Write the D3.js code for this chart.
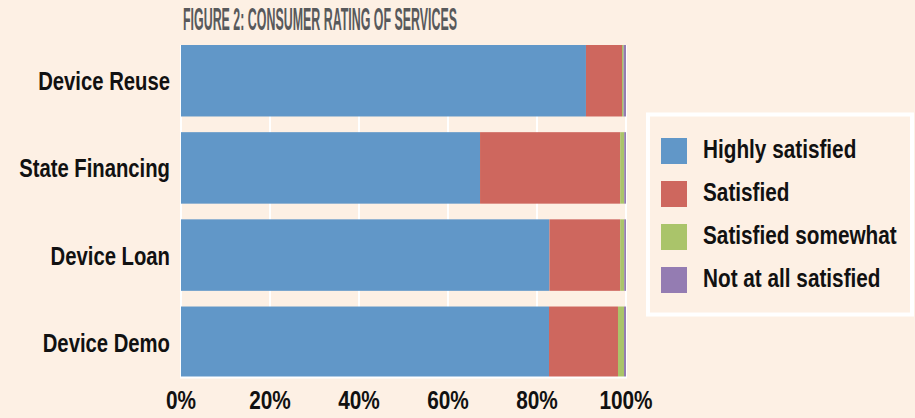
<!DOCTYPE html>
<html>
<head>
<meta charset="utf-8">
<script src="https://cdn.jsdelivr.net/npm/d3@7"></script>
<style>
  html, body { margin: 0; padding: 0; background: #fdf0e4; }
  svg { display: block; font-family: 'Liberation Sans', Arial, sans-serif; font-weight: bold; }
</style>
</head>
<body>
<div id="chart"></div>
<script>
// values (percent of responses)
const categories = ['Device Reuse', 'State Financing', 'Device Loan', 'Device Demo'];
const highlySatisfied = [91.0, 67.2, 82.8, 82.7];
const satisfied = [8.1, 31.5, 15.9, 15.5];
const satisfiedSomewhat = [0.35, 0.9, 0.9, 1.35];
const notAtAllSatisfied = [0.55, 0.4, 0.4, 0.45];
const seriesNames = ['Highly satisfied', 'Satisfied', 'Satisfied somewhat', 'Not at all satisfied'];
const tickValues = [0, 20, 40, 60, 80, 100];

const colors = ['#6197c8', '#ce675e', '#aac46a', '#947cb2'];

const size = { width: 915, height: 418 };
const margin = { top: 45, right: 289, bottom: 40, left: 181 };

// condensed look: place text with a transform and squeeze it horizontally
const place = (sel, fx, fy, k) =>
  sel.attr('transform', (d, i) => `translate(${fx(d, i)},${fy(d, i)}) scale(${k},1)`);

const svg = d3.select('#chart')
  .append('svg')
  .attr('width', size.width)
  .attr('height', size.height);

svg.append('rect')
  .attr('width', size.width)
  .attr('height', size.height)
  .attr('fill', '#fdf0e4');

const table = categories.map((c, i) => ({
  category: c,
  'Highly satisfied': highlySatisfied[i],
  'Satisfied': satisfied[i],
  'Satisfied somewhat': satisfiedSomewhat[i],
  'Not at all satisfied': notAtAllSatisfied[i],
}));

const stacked = d3.stack().keys(seriesNames)(table);

const x = d3.scaleLinear()
  .domain([0, 100])
  .range([margin.left, size.width - margin.right]);

const y = d3.scaleBand()
  .domain(categories)
  .range([margin.top, 378])
  .paddingInner(0.18)
  .paddingOuter(0);

// white vertical grid lines
svg.append('g')
  .selectAll('line')
  .data(tickValues)
  .join('line')
  .attr('x1', (d) => x(d))
  .attr('x2', (d) => x(d))
  .attr('y1', y.range()[0])
  .attr('y2', y.range()[1])
  .attr('stroke', '#ffffff')
  .attr('stroke-width', 2);

// stacked bars
svg.append('g')
  .selectAll('g')
  .data(stacked)
  .join('g')
  .attr('fill', (d, i) => colors[i])
  .selectAll('rect')
  .data((d) => d)
  .join('rect')
  .attr('x', (d) => x(d[0]))
  .attr('width', (d) => x(d[1]) - x(d[0]))
  .attr('y', (d) => y(d.data.category))
  .attr('height', y.bandwidth());

// baseline
svg.append('line')
  .attr('x1', x(0) - 1)
  .attr('x2', x(100) + 1)
  .attr('y1', y.range()[1] - 0.5)
  .attr('y2', y.range()[1] - 0.5)
  .attr('stroke', '#ffffff')
  .attr('stroke-width', 2);

// category labels
svg.append('g')
  .selectAll('text')
  .data(categories)
  .join('text')
  .text((d) => d)
  .call(place, () => margin.left - 11, (d) => y(d) + y.bandwidth() / 2 + 9.5, 0.78)
  .attr('text-anchor', 'end')
  .attr('font-size', 26)
  .attr('fill', '#111');

// x tick labels
svg.append('g')
  .selectAll('text')
  .data(tickValues)
  .join('text')
  .text((d) => `${d}%`)
  .call(place, (d) => x(d), () => 409, 0.8)
  .attr('text-anchor', 'middle')
  .attr('font-size', 26)
  .attr('fill', '#111');

// title
svg.append('text')
  .text('FIGURE 2: CONSUMER RATING OF SERVICES')
  .attr('x', 183)
  .attr('y', 30)
  .attr('font-size', 32)
  .attr('textLength', 274)
  .attr('lengthAdjust', 'spacingAndGlyphs')
  .attr('fill', '#58595b');

// legend
const legend = svg.append('g');
legend.append('rect')
  .attr('x', 648)
  .attr('y', 114.5)
  .attr('width', 264)
  .attr('height', 200)
  .attr('fill', 'none')
  .attr('stroke', '#ffffff')
  .attr('stroke-width', 4);

const items = legend.selectAll('g')
  .data(seriesNames)
  .join('g')
  .attr('transform', (d, i) => `translate(661, ${138 + i * 43})`);

items.append('rect')
  .attr('width', 26)
  .attr('height', 26)
  .attr('fill', (d, i) => colors[i]);

items.append('text')
  .text((d) => d)
  .call(place, () => 42, () => 19.5, 0.83)
  .attr('font-size', 25)
  .attr('fill', '#111');
</script>
</body>
</html>
